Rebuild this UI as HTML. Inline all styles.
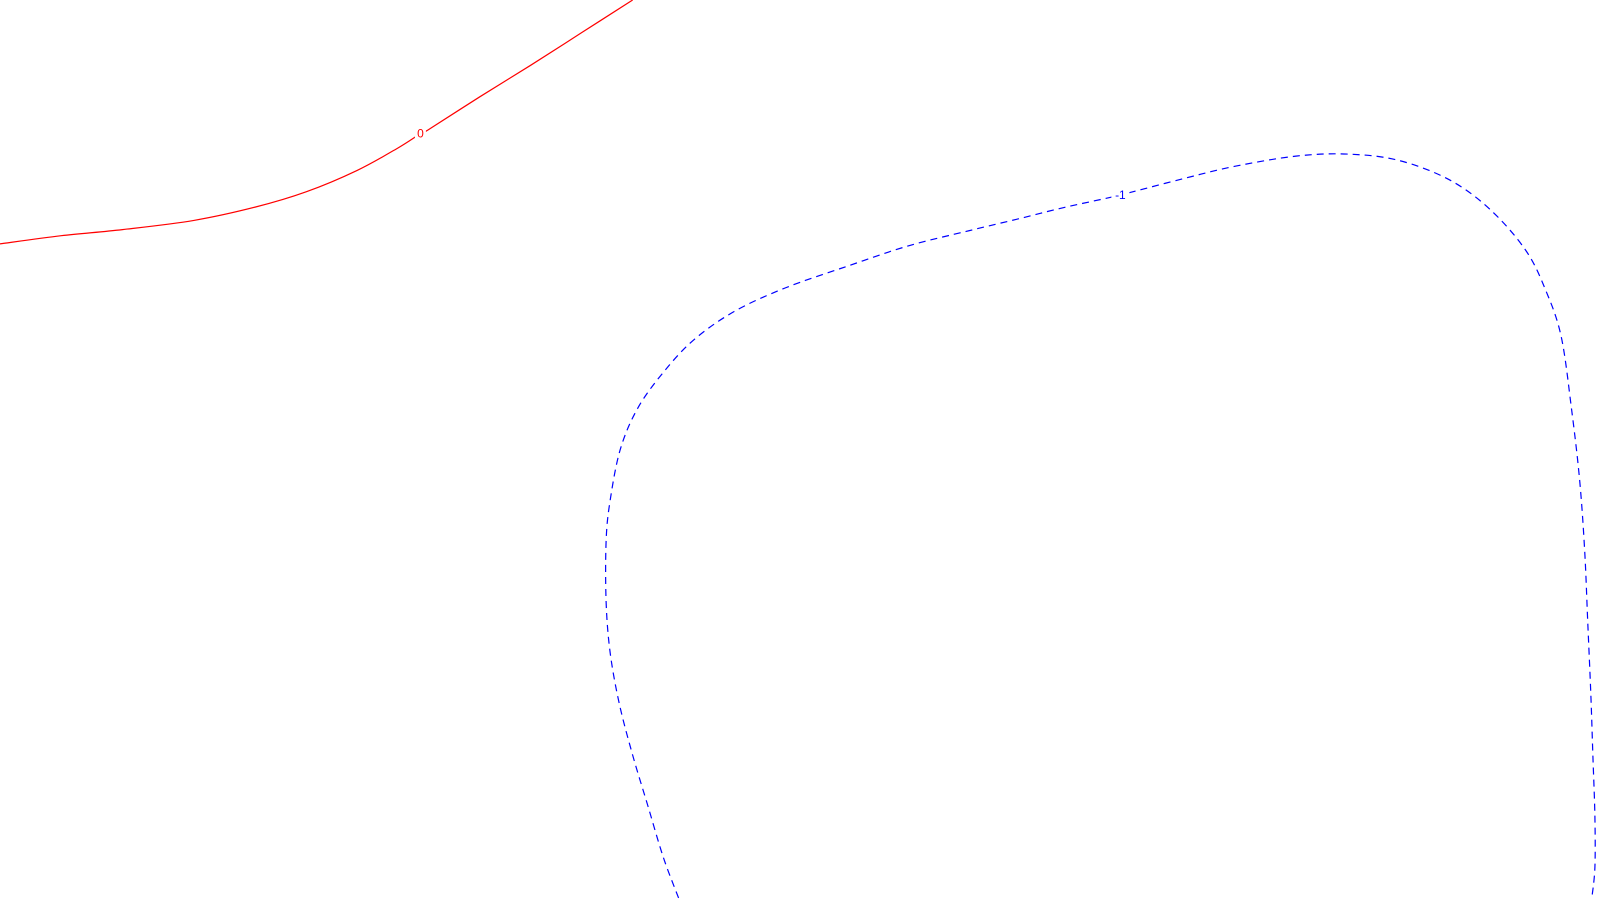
<!DOCTYPE html>
<html><head><meta charset="utf-8"><style>
html,body{margin:0;padding:0;background:#fff;width:1600px;height:900px;overflow:hidden}
svg{display:block}
</style></head><body>
<svg id="chart" width="1600" height="900" viewBox="0 0 1600 900" xmlns="http://www.w3.org/2000/svg">
<g id="lines"></g>
</svg>
<script>
const levels = ["0", "-1"];
const contour0X = [0,60,120,190,250,300,350,390,412,420,470,520,570,620];
const contour0Y = [239,231,225,216,203,188,167,145,131,127,95,64,32,0];
const contour1X = [665,650,635,620,607,598,594,594,598,608,625,650,680,720,770,830,890,950,1000,1040,1090,1110,1160,1210,1270,1320,1370,1420,1460,1495,1515,1530,1540,1548,1553,1556,1559,1561,1563,1563,1560];
const contour1Y = [880,840,790,740,690,640,590,530,490,440,400,365,333,305,282,261,241,226,214,204,193,188,175,163,153,151,157,176,205,245,285,330,400,470,540,610,680,740,800,850,880];
const labelX = [412, 1098];
const labelY = [131, 191];

const K = 1600/1568;
const xScale = v => v*K;
const yScale = v => v*K;

const g = document.getElementById('lines');
const NS = 'http://www.w3.org/2000/svg';
function smoothPath(xs, ys){
  const p = xs.map((x,i)=>[xScale(x), yScale(ys[i])]);
  let d = `M${p[0][0]},${p[0][1]}`;
  for(let i=0;i<p.length-1;i++){
    const p0=p[Math.max(0,i-1)],p1=p[i],p2=p[i+1],p3=p[Math.min(p.length-1,i+2)];
    const c1=[p1[0]+(p2[0]-p0[0])/6,p1[1]+(p2[1]-p0[1])/6];
    const c2=[p2[0]-(p3[0]-p1[0])/6,p2[1]-(p3[1]-p1[1])/6];
    d+=` C${c1[0]},${c1[1]} ${c2[0]},${c2[1]} ${p2[0]},${p2[1]}`;
  }
  return d;
}
const series = [
  {xs: contour0X, ys: contour0Y, color: '#ff0000', dash: null},
  {xs: contour1X, ys: contour1Y, color: '#0000ff', dash: '7,5'}
];
series.forEach((s,i)=>{
  const path = document.createElementNS(NS,'path');
  
  
  path.setAttribute('d', smoothPath(s.xs, s.ys));
  path.setAttribute('fill', 'none');
  path.setAttribute('stroke', s.color);
  path.setAttribute('stroke-width', '1.2');
  if(s.dash) path.setAttribute('stroke-dasharray', s.dash);
  g.appendChild(path);
  const bg = document.createElementNS(NS,'rect');
  
  
  const w = levels[i].length*7+4;
  bg.setAttribute('x', xScale(labelX[i]) - w/2);
  bg.setAttribute('y', yScale(labelY[i]) - 7);
  bg.setAttribute('width', w);
  bg.setAttribute('height', 14);
  bg.setAttribute('fill', '#fff');
  g.appendChild(bg);
  const t = document.createElementNS(NS,'text');
  
  
  t.setAttribute('x', xScale(labelX[i]));
  t.setAttribute('y', yScale(labelY[i]) + 4);
  t.setAttribute('text-anchor', 'middle');
  t.setAttribute('font-family', '"Liberation Sans", sans-serif');
  t.setAttribute('font-size', '12');
  t.setAttribute('fill', s.color);
  t.textContent = levels[i];
  g.appendChild(t);
});
</script>
</body></html>
